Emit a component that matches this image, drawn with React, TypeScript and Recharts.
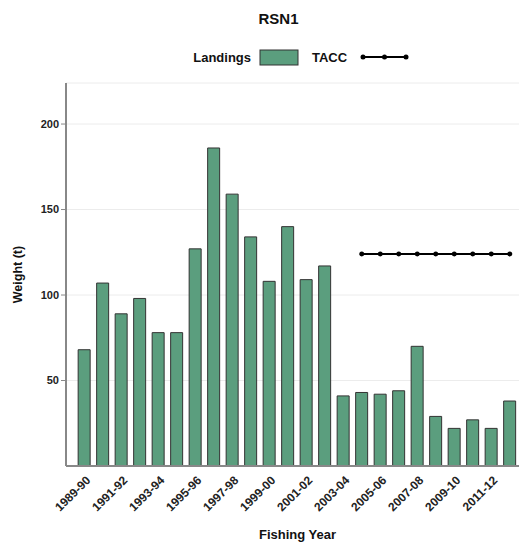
import React from "react";
import { ComposedChart, Bar, Line, XAxis, YAxis, CartesianGrid, Legend } from "recharts";

const years = [
  "1989-90", "1990-91", "1991-92", "1992-93", "1993-94", "1994-95", "1995-96", "1996-97",
  "1997-98", "1998-99", "1999-00", "2000-01", "2001-02", "2002-03", "2003-04", "2004-05",
  "2005-06", "2006-07", "2007-08", "2008-09", "2009-10", "2010-11", "2011-12", "2012-13",
];
const landings = [68, 107, 89, 98, 78, 78, 127, 186, 159, 134, 108, 140, 109, 117, 41, 43, 42, 44, 70, 29, 22, 27, 22, 38];
const tacc = [null, null, null, null, null, null, null, null, null, null, null, null, null, null, null, 124, 124, 124, 124, 124, 124, 124, 124, 124];
const yTicks = [50, 100, 150, 200];

const FONT = "'Liberation Sans', Arial, sans-serif";
const GREEN = "#5b9e7e";

const data = years.map((y, i) => ({ year: y, Landings: landings[i], TACC: tacc[i] }));

function YearTick({ x, y, payload }: any) {
  return (
    <g transform={`translate(${x + 1},${y + 1})`}>
      <text
        textAnchor="end"
        transform="rotate(-45)"
        dy="0.7em"
        fontSize={12}
        fontWeight="bold"
        fill="#222"
        fontFamily={FONT}
      >
        {payload.value}
      </text>
    </g>
  );
}

function LegendBox() {
  return (
    <svg width={521} height={24}>
      <text x={251} y={18} textAnchor="end" fontSize={13} fontWeight="bold" fill="#111" fontFamily={FONT}>
        Landings
      </text>
      <rect x={260} y={6} width={38} height={15} fill={GREEN} stroke="#333" strokeWidth={1} />
      <text x={312} y={18} fontSize={13} fontWeight="bold" fill="#111" fontFamily={FONT}>
        TACC
      </text>
      <line x1={363} y1={13} x2={406} y2={13} stroke="#000" strokeWidth={2} />
      {[363, 384.5, 406].map((cx) => (
        <circle key={cx} cx={cx} cy={13} r={2.5} fill="#000" />
      ))}
    </svg>
  );
}

export default function App() {
  return (
    <div style={{ position: "absolute", left: 0, top: 0, width: 521, height: 543, background: "#fff", fontFamily: FONT }}>
      <div
        style={{
          position: "absolute", top: 10, left: 0, width: 557, textAlign: "center",
          fontSize: 15, fontWeight: "bold", color: "#111",
        }}
      >
        RSN1
      </div>
      <ComposedChart
        width={521}
        height={543}
        data={data}
        margin={{ top: 83, right: 2, left: 0, bottom: 0 }}
        barCategoryGap="17%"
      >
        <CartesianGrid stroke="#ececec" vertical={false} />
        <XAxis
          dataKey="year"
          height={77}
          interval={1}
          tickLine={false}
          axisLine={{ stroke: "#888", strokeWidth: 2 }}
          padding={{ left: 9, right: 0 }}
          tick={<YearTick />}
          label={{ value: "Fishing Year", position: "insideBottom", offset: 4, dx: 5, fontSize: 13, fontWeight: "bold", fill: "#111", fontFamily: FONT }}
        />
        <YAxis
          width={66}
          domain={[0, 224]}
          ticks={yTicks}
          tickSize={5}
          tickLine={{ stroke: "#888" }}
          axisLine={{ stroke: "#888", strokeWidth: 2 }}
          tick={{ fontSize: 11, fontWeight: "bold", fill: "#222", fontFamily: FONT }}
          label={{ value: "Weight (t)", angle: -90, position: "insideLeft", offset: 18, fontSize: 12.5, fontWeight: "bold", fill: "#111", fontFamily: FONT, style: { textAnchor: "middle" } }}
        />
        <Legend
          verticalAlign="middle"
          align="center"
          content={() => <LegendBox />}
          wrapperStyle={{ position: "absolute", top: 44, left: 0, width: 521 }}
        />
        <Bar dataKey="Landings" fill={GREEN} stroke="#333" strokeWidth={1} isAnimationActive={false} />
        <Line
          dataKey="TACC"
          stroke="#000"
          strokeWidth={2}
          dot={{ r: 2.5, fill: "#000", stroke: "#000", strokeWidth: 0 }}
          connectNulls={false}
          isAnimationActive={false}
        />
      </ComposedChart>
    </div>
  );
}
